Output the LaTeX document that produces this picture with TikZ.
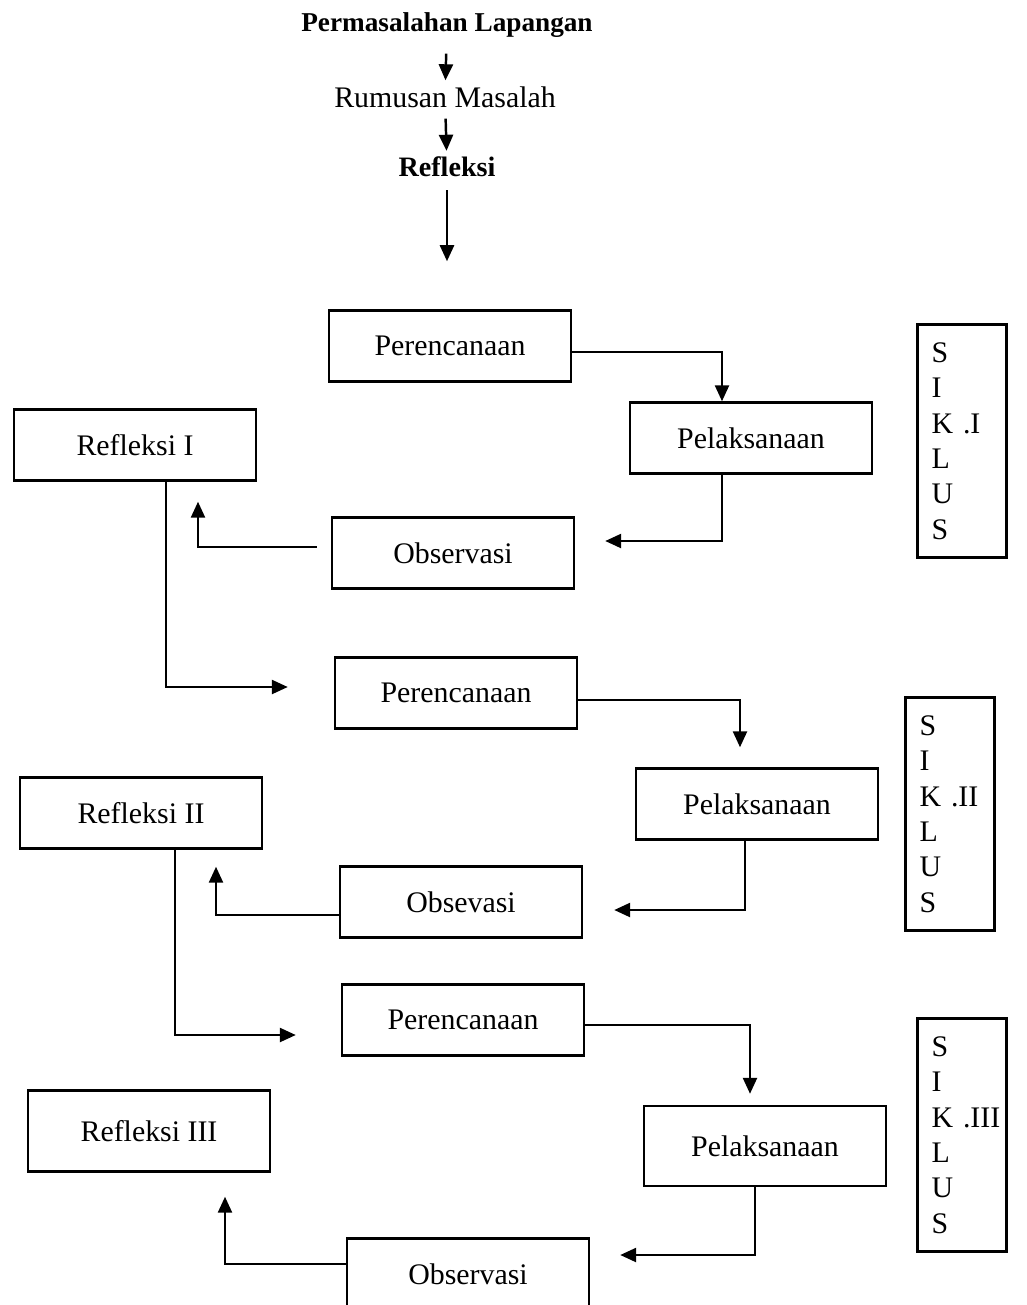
\documentclass[tikz,border=0pt]{standalone}
\usepackage{fontspec}
\setmainfont{Liberation Serif}
\usetikzlibrary{arrows.meta,calc}
\begin{document}
\begin{tikzpicture}[x=0.02cm,y=-0.02cm,
		box/.style={draw,line width=1.4pt,minimum width=4.84cm,minimum height=1.42cm,font=\fontsize{17}{20}\selectfont},
		siklus/.style={draw,line width=1.4pt,minimum height=4.66cm,text width=1.22cm,inner xsep=0.28cm,align=left,font=\fontsize{17}{20.2}\selectfont},
		arr/.style={line width=1.4pt,-{Triangle[length=0.32cm,width=0.28cm]}},
		lbl/.style={font=\fontsize{17}{20}\selectfont}]
		\useasboundingbox (0,0) rectangle (1027,1305);
		\clip (0,0) rectangle (1027,1305);

		\node[lbl,font=\bfseries\fontsize{15.5}{18}\selectfont] (masalah) at (447,25) {Permasalahan Lapangan};
		\node[lbl] (rumusan) at (445,97) {Rumusan Masalah};
		\node[lbl,font=\bfseries\fontsize{16}{19}\selectfont] (refl) at (447,167) {Refleksi};
		\draw[arr,shorten <=0.2cm] (masalah) -- (rumusan);
		\draw[arr,shorten <=0.1cm] (rumusan) -- (refl);
		\draw[arr] ($(refl.south)+(0,7)$) -- ($(refl.south)+(0,78)$);

		% siklus I
		\node[box] (per1) at (450,346) {Perencanaan};
		\node[box] (pel1) at (751,438) {Pelaksanaan};
		\node[box] (ref1) at (135,445) {Refleksi I};
		\node[box] (obs1) at (453,553) {Observasi};
		\node[siklus] (sik1) at (962,441) {S\\I\\K\,\,.I\\L\\U\\S};
		\draw[arr] ($(per1.east)+(0,6)$) -| ($(pel1.north)+(-29,0)$);
		\draw[arr] ($(pel1.south)+(-29,0)$) |- ($(obs1.east)+(30,-12)$);
		\draw[arr] ($(obs1.west)+(-14,-6)$) -| ($(ref1.south)+(63,20)$);

		% siklus II
		\node[box] (per2) at (456,693) {Perencanaan};
		\node[box] (pel2) at (757,804) {Pelaksanaan};
		\node[box] (ref2) at (141,813) {Refleksi II};
		\node[box] (obs2) at (461,902) {Obsevasi};
		\node[siklus] (sik2) at (950,814) {S\\I\\K\,\,.II\\L\\U\\S};
		\draw[arr] ($(ref1.south)+(31,0)$) |- ($(per2.west)+(-46,-6)$);
		\draw[arr] ($(per2.east)+(0,7)$) -| ($(pel2.north)+(-17,-20)$);
		\draw[arr] ($(pel2.south)+(-12,0)$) |- ($(obs2.east)+(31,8)$);
		\draw[arr] ($(obs2.west)+(0,13)$) -| ($(ref2.south)+(75,17)$);

		% siklus III
		\node[box] (per3) at (463,1020) {Perencanaan};
		\node[box,minimum height=1.6cm] (pel3) at (765,1146) {Pelaksanaan};
		\node[box,minimum height=1.62cm] (ref3) at (149,1131) {Refleksi III};
		\node[box] (obs3) at (468,1274) {Observasi};
		\node[siklus] (sik3) at (962,1135) {S\\I\\K\,\,.III\\L\\U\\S};
		\draw[arr] ($(ref2.south)+(34,0)$) |- ($(per3.west)+(-45,15)$);
		\draw[arr] ($(per3.east)+(0,5)$) -| ($(pel3.north)+(-15,-11)$);
		\draw[arr] ($(pel3.south)+(-10,0)$) |- ($(obs3.east)+(30,-19)$);
		\draw[arr] ($(obs3.west)+(0,-10)$) -| ($(ref3.south)+(76,24)$);

	\end{tikzpicture}
\end{document}
